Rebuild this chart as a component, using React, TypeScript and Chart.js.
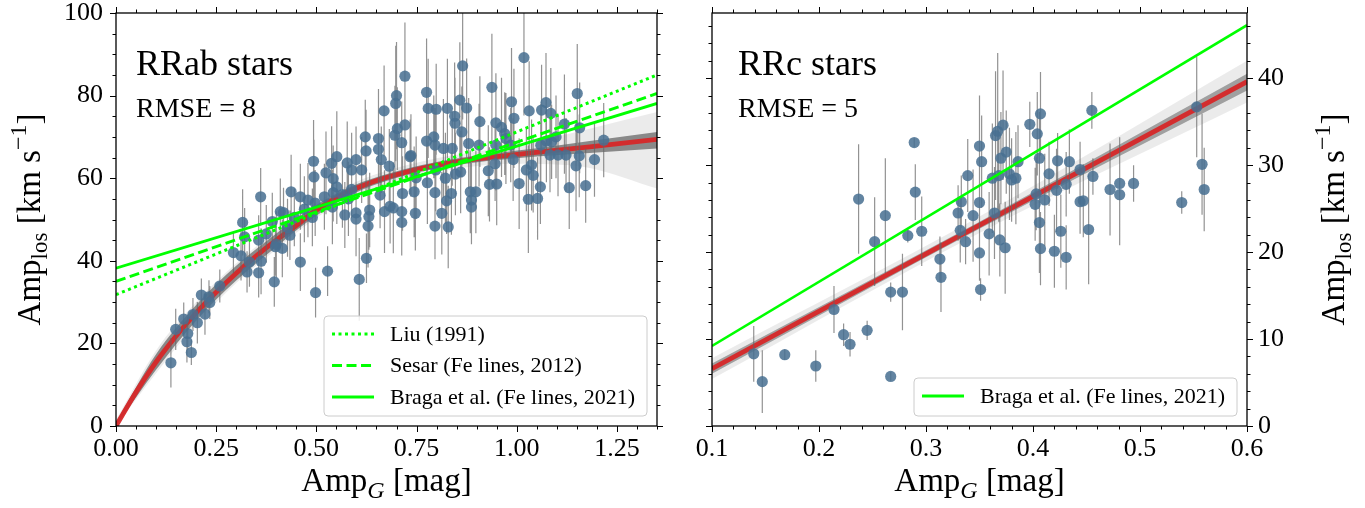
import React, { useEffect, useRef } from "react";
import { Chart, registerables } from "chart.js";
Chart.register(...registerables);

const SERIF = '"Liberation Serif", "Times New Roman", serif';
const LIME = "#00ff00";
const RED = "rgba(214,39,40,0.95)";
const DOT = "rgba(72,112,145,0.86)";
const ERRC = "rgba(100,100,100,0.7)";

// ---------------- RRab (left panel) ----------------
const RRAB_AMPG = [
  0.137, 0.149, 0.169, 0.179, 0.177, 0.188, 0.192, 0.203, 0.213, 0.222,
  0.232, 0.234, 0.259, 0.293, 0.312, 0.316, 0.321, 0.327, 0.333, 0.356,
  0.361, 0.362, 0.356, 0.395, 0.398, 0.41, 0.415, 0.418, 0.437, 0.46,
  0.46, 0.479, 0.434, 0.428, 0.498, 0.528, 0.607, 0.625, 0.493, 0.494,
  0.497, 0.524, 0.538, 0.551, 0.542, 0.551, 0.542, 0.571, 0.577, 0.588,
  0.599, 0.588, 0.599, 0.599, 0.622, 0.624, 0.613, 0.633, 0.629, 0.631,
  0.655, 0.655, 0.662, 0.669, 0.67, 0.684, 0.692, 0.659, 0.682, 0.698,
  0.7, 0.696, 0.702, 0.721, 0.721, 0.713, 0.713, 0.713, 0.715, 0.734,
  0.736, 0.744, 0.747, 0.749, 0.775, 0.779, 0.799, 0.775, 0.793, 0.796,
  0.777, 0.796, 0.798, 0.813, 0.796, 0.817, 0.822, 0.829, 0.827, 0.846,
  0.845, 0.839, 0.837, 0.825, 0.847, 0.858, 0.865, 0.863, 0.875, 0.86,
  0.88, 0.884, 0.887, 0.887, 0.898, 0.908, 0.906, 0.929, 0.932, 0.938,
  0.948, 0.948, 0.95, 0.946, 0.962, 0.973, 0.987, 0.993, 0.991, 0.985,
  1.006, 1.018, 1.031, 1.029, 1.024, 1.037, 1.041, 1.052, 1.059, 1.062,
  1.073, 1.085, 1.06, 1.074, 1.087, 1.083, 1.103, 1.119, 1.123, 1.131,
  1.148, 1.151, 1.157, 1.156, 1.172, 1.194, 1.217, 1.098, 0.97, 0.47,
  0.49, 0.52, 0.54, 0.565, 0.58, 0.445, 0.39, 0.4, 0.375,
];
const RRAB_AMPLOS = [
  15.3, 23.4, 25.9, 22.4, 20.4, 17.8, 27.0, 25.0, 31.7, 27.1,
  31.3, 29.9, 33.9, 42.0, 41.2, 49.3, 45.8, 37.3, 39.7, 37.1,
  55.5, 39.9, 45.0, 34.9, 43.4, 51.9, 43.0, 51.7, 56.7, 39.7,
  55.5, 54.7, 46.2, 48.0, 32.3, 37.5, 35.5, 40.6, 64.1, 60.3,
  54.0, 61.3, 63.6, 65.2, 59.9, 57.9, 56.5, 51.1, 63.7, 62.0,
  64.5, 57.3, 51.6, 50.1, 70.0, 66.6, 62.0, 52.3, 48.4, 50.7,
  69.6, 67.0, 64.5, 76.3, 51.9, 53.2, 52.8, 55.9, 62.9, 78.1,
  80.0, 70.4, 72.0, 84.7, 72.9, 68.6, 51.9, 49.3, 56.3, 65.2,
  65.5, 56.7, 51.5, 60.1, 80.8, 76.9, 76.7, 69.0, 70.0, 68.0,
  58.9, 56.5, 62.0, 51.5, 48.4, 67.2, 60.0, 48.2, 76.9, 73.3,
  75.0, 67.2, 56.3, 54.5, 61.0, 78.9, 87.2, 71.2, 77.0, 61.5,
  68.4, 56.7, 53.0, 54.7, 56.7, 73.7, 68.0, 61.8, 58.5, 82.0,
  73.4, 68.0, 58.6, 63.5, 72.3, 69.6, 78.5, 74.5, 64.5, 68.0,
  58.7, 89.2, 76.3, 54.9, 62.0, 63.2, 60.7, 55.1, 57.9, 76.5,
  78.3, 75.7, 68.0, 69.0, 68.8, 65.6, 65.6, 73.1, 65.6, 57.7,
  63.0, 80.5, 72.2, 65.4, 58.2, 64.5, 69.2, 70.0, 70.8, 52.5,
  50.5, 55.5, 53.0, 56.0, 55.0, 50.5, 49.5, 44.0, 46.5,
];
const RRAB_ERR = [
  6, 5, 4, 4, 5, 3, 4, 5, 4, 5,
  4, 4, 4, 5, 6, 8, 7, 5, 6, 6,
  7, 8, 6, 6, 7, 8, 7, 6, 9, 7,
  8, 9, 6, 7, 6, 6, 10, 6, 10, 9,
  8, 10, 9, 11, 8, 9, 7, 8, 10, 9,
  8, 7, 8, 9, 9, 10, 8, 9, 10, 8,
  12, 9, 8, 11, 10, 9, 11, 8, 9, 14,
  13, 12, 10, 13, 11, 10, 10, 8, 9, 9,
  10, 11, 9, 10, 13, 12, 11, 11, 10, 9,
  10, 9, 10, 10, 8, 12, 11, 10, 12, 11,
  13, 9, 10, 8, 10, 14, 13, 11, 12, 10,
  11, 10, 9, 9, 10, 11, 10, 11, 9, 13,
  12, 11, 10, 9, 12, 11, 13, 12, 10, 9,
  11, 14, 12, 13, 10, 11, 9, 10, 9, 11,
  12, 11, 10, 10, 9, 9, 10, 12, 9, 10,
  11, 12, 11, 10, 9, 9, 9, 10, 10, 8,
  7, 8, 9, 8, 9, 7, 7, 8, 7,
];

// fitted relation (red) and posterior band (grey), RRab
const RRAB_FIT_X = [0, 0.05, 0.1, 0.15, 0.2, 0.25, 0.3, 0.35, 0.4, 0.45, 0.493, 0.542, 0.591, 0.64, 0.69, 0.788, 0.887, 0.985, 1.084, 1.182, 1.35];
const RRAB_FIT_Y = [0, 8.2, 15.5, 21.8, 27.4, 32.4, 37.0, 41.2, 45.0, 48.5, 51.8, 54.8, 57.2, 59.1, 60.6, 62.9, 64.5, 65.6, 66.6, 67.6, 69.4];
const RRAB_BAND_X = [0, 0.1, 0.2, 0.3, 0.4, 0.493, 0.591, 0.69, 0.788, 0.887, 0.985, 1.084, 1.182, 1.35];
const RRAB_IN_HI = [0.9, 17.4, 29.3, 38.8, 46.6, 53.1, 58.2, 61.4, 63.7, 65.3, 66.5, 67.7, 69.0, 71.2];
const RRAB_IN_LO = [0, 13.6, 25.5, 35.2, 43.4, 50.5, 56.2, 59.8, 62.1, 63.7, 64.7, 65.5, 66.1, 67.2];
const RRAB_OUT_HI = [1.5, 18.3, 30.0, 39.4, 47.2, 53.7, 58.8, 62.2, 64.6, 66.3, 67.8, 69.8, 72.0, 76.0];
const RRAB_OUT_LO = [0, 12.8, 24.7, 34.6, 42.8, 49.9, 55.6, 59.0, 61.3, 62.8, 63.5, 63.4, 62.5, 57.5];

// literature relations, RRab (end points)
const LIT_X = [0, 1.35];
const LIU_Y = [31.8, 85.0];
const SESAR_Y = [35.0, 80.5];
const BRAGA_AB_Y = [38.2, 78.1];

// ---------------- RRc (right panel) ----------------
const RRC_AMPG = [
  0.139, 0.147, 0.168, 0.197, 0.214, 0.223, 0.229, 0.237, 0.245, 0.252,
  0.262, 0.267, 0.267, 0.278, 0.283, 0.289, 0.29, 0.296, 0.313, 0.314,
  0.33, 0.332, 0.333, 0.337, 0.339, 0.344, 0.35, 0.352, 0.35, 0.35,
  0.351, 0.359, 0.364, 0.362, 0.365, 0.367, 0.372, 0.368, 0.369, 0.374,
  0.37, 0.375, 0.378, 0.38, 0.384, 0.386, 0.397, 0.404, 0.407, 0.406,
  0.402, 0.406, 0.407, 0.403, 0.411, 0.415, 0.42, 0.422, 0.423, 0.426,
  0.431, 0.434, 0.431, 0.444, 0.447, 0.444, 0.452, 0.455, 0.456, 0.472,
  0.481, 0.481, 0.494, 0.539, 0.553, 0.558, 0.56,
];
const RRC_AMPLOS = [
  8.3, 5.1, 8.2, 6.9, 13.4, 10.5, 9.4, 26.1, 11.0, 21.2,
  24.2, 15.4, 5.7, 15.4, 21.9, 32.6, 26.9, 22.4, 19.2, 17.1,
  24.5, 22.5, 25.8, 21.2, 28.8, 24.2, 32.2, 30.4, 25.7, 19.9,
  15.7, 22.1, 24.5, 28.5, 33.4, 33.9, 34.6, 28.8, 21.4, 20.5,
  30.8, 31.5, 29.0, 28.3, 28.5, 30.4, 34.7, 33.6, 35.9, 30.8,
  25.5, 23.4, 20.4, 26.7, 26.0, 29.0, 20.1, 27.1, 30.5, 22.4,
  19.4, 30.4, 27.8, 25.8, 25.9, 29.5, 22.6, 36.3, 28.7, 27.2,
  27.9, 26.6, 27.9, 25.7, 36.7, 30.1, 27.2,
];
const RRC_ERR = [
  3.2, 3.6, 0.6, 1.8, 2.7, 1.3, 1.4, 6.3, 1.1, 5.1,
  6.6, 1.1, 0.5, 4.4, 0.8, 0.5, 3.2, 4.0, 2.6, 4.0,
  3.2, 3.7, 3.0, 2.6, 4.2, 5.3, 5.8, 5.3, 4.2, 3.2,
  1.3, 4.8, 5.3, 6.3, 7.4, 9.0, 6.3, 5.3, 4.2, 5.3,
  5.3, 4.8, 5.3, 4.8, 5.3, 4.2, 2.6, 4.8, 4.8, 5.3,
  4.2, 5.8, 4.2, 4.2, 5.3, 3.7, 4.2, 4.8, 3.2, 4.2,
  3.7, 3.7, 3.7, 3.7, 4.2, 3.2, 6.3, 2.1, 2.1, 5.3,
  5.3, 5.8, 2.1, 1.3, 5.8, 5.8, 4.8,
];
const RRC_FIT_X = [0.1, 0.6];
const RRC_FIT_Y = [6.6, 39.6];
const RRC_BAND_X = [0.1, 0.35, 0.6];
const RRC_IN_HI = [7.2, 23.5, 40.5];
const RRC_IN_LO = [6.0, 22.7, 38.6];
const RRC_OUT_HI = [7.8, 24.1, 42.0];
const RRC_OUT_LO = [5.4, 22.2, 37.2];
const BRAGA_C_X = [0.1, 0.6];
const BRAGA_C_Y = [9.2, 46.1];

// ---------------- axes ----------------
const AB_X_TICKS = [0, 0.25, 0.5, 0.75, 1.0, 1.25];
const AB_Y_TICKS = [0, 20, 40, 60, 80, 100];
const C_X_TICKS = [0.1, 0.2, 0.3, 0.4, 0.5, 0.6];
const C_Y_TICKS = [0, 10, 20, 30, 40];

type Part = { t: string; s?: number; dy?: number; it?: boolean };
const Y_TITLE: Part[] = [
  { t: "Amp" },
  { t: "los", s: 0.7, dy: 0.2 },
  { t: " [km s" },
  { t: "\u22121", s: 0.72, dy: -0.42 },
  { t: "]" },
];
const X_TITLE: Part[] = [{ t: "Amp" }, { t: "G", s: 0.72, dy: 0.2, it: true }, { t: " [mag]" }];

function fontOf(p: Part, size: number) {
  return `${p.it ? "italic " : ""}${Math.round(size * (p.s || 1))}px ${SERIF}`;
}
function drawRich(ctx: CanvasRenderingContext2D, parts: Part[], x: number, y: number, size: number) {
  let w = 0;
  parts.forEach((p) => {
    ctx.font = fontOf(p, size);
    w += ctx.measureText(p.t).width;
  });
  let cx = x - w / 2;
  ctx.textAlign = "left";
  ctx.textBaseline = "alphabetic";
  parts.forEach((p) => {
    ctx.font = fontOf(p, size);
    ctx.fillText(p.t, cx, y + (p.dy || 0) * size);
    cx += ctx.measureText(p.t).width;
  });
}

const pts = (xs: number[], ys: number[]) => xs.map((x, i) => ({ x, y: ys[i] }));
function errBars(xs: number[], ys: number[], es: number[]) {
  const out: any[] = [];
  xs.forEach((x, i) => {
    out.push({ x, y: ys[i] - es[i] }, { x, y: ys[i] + es[i] }, { x, y: null });
  });
  return out;
}

interface LegendEntry { label: string; dash: number[]; width: number }
interface Spec {
  xMin: number; xMax: number; yMin: number; yMax: number;
  xMinor: number; yMinor: number; xMajor: number[]; yMajor: number[];
  title: string; rmse: string; textLeft: number; legend: LegendEntry[]; yTitleX: number;
}

function roundRect(ctx: CanvasRenderingContext2D, x: number, y: number, w: number, h: number, r: number) {
  ctx.beginPath();
  ctx.moveTo(x + r, y);
  ctx.lineTo(x + w - r, y);
  ctx.arcTo(x + w, y, x + w, y + r, r);
  ctx.lineTo(x + w, y + h - r);
  ctx.arcTo(x + w, y + h, x + w - r, y + h, r);
  ctx.lineTo(x + r, y + h);
  ctx.arcTo(x, y + h, x, y + h - r, r);
  ctx.lineTo(x, y + r);
  ctx.arcTo(x, y, x + r, y, r);
  ctx.closePath();
}

function decor(spec: Spec) {
  return {
    id: "panelDecor",
    afterDatasetsDraw(chart: any) {
      const ctx: CanvasRenderingContext2D = chart.ctx;
      const a = chart.chartArea;
      const sx = chart.scales.x;
      const sy = chart.scales.y;
      ctx.save();
      ctx.fillStyle = "#000";
      ctx.textAlign = "left";
      ctx.textBaseline = "alphabetic";
      ctx.font = `36px ${SERIF}`;
      ctx.fillText(spec.title, a.left + spec.textLeft, 75);
      ctx.font = `28px ${SERIF}`;
      ctx.fillText(spec.rmse, a.left + spec.textLeft, 117);

      // legend
      ctx.font = `22px ${SERIF}`;
      const tw = Math.max(...spec.legend.map((e) => ctx.measureText(e.label).width));
      const bw = 8 + 42 + 16 + tw + 12;
      const bh = spec.legend.length * 31 + 7;
      const bx = a.right - 10 - bw;
      const by = a.bottom - 10 - bh;
      roundRect(ctx, bx, by, bw, bh, 4);
      ctx.fillStyle = "rgba(255,255,255,0.85)";
      ctx.fill();
      ctx.strokeStyle = "#cccccc";
      ctx.lineWidth = 1;
      ctx.stroke();
      spec.legend.forEach((e, i) => {
        const cy = by + 18 + i * 31.5;
        ctx.beginPath();
        ctx.setLineDash(e.dash);
        ctx.strokeStyle = LIME;
        ctx.lineWidth = e.width;
        ctx.moveTo(bx + 8, cy);
        ctx.lineTo(bx + 50, cy);
        ctx.stroke();
        ctx.setLineDash([]);
        ctx.fillStyle = "#000";
        ctx.textBaseline = "middle";
        ctx.font = `22px ${SERIF}`;
        ctx.fillText(e.label, bx + 66, cy + 1);
      });

      // frame
      ctx.strokeStyle = "#000";
      ctx.lineWidth = 1.3;
      ctx.strokeRect(a.left, a.top, a.right - a.left, a.bottom - a.top);

      // ticks (outward, all four sides)
      ctx.lineWidth = 1;
      const isMajor = (v: number, majors: number[]) => majors.some((m) => Math.abs(m - v) < 1e-6);
      const nx = Math.round((spec.xMax - spec.xMin) / spec.xMinor);
      for (let i = 0; i <= nx; i++) {
        const v = spec.xMin + i * spec.xMinor;
        const len = isMajor(v, spec.xMajor) ? 6 : 3.5;
        const px = Math.round(sx.getPixelForValue(v)) + 0.5;
        ctx.beginPath();
        ctx.moveTo(px, a.bottom);
        ctx.lineTo(px, a.bottom + len);
        ctx.moveTo(px, a.top);
        ctx.lineTo(px, a.top - len);
        ctx.stroke();
      }
      const ny = Math.floor((spec.yMax - spec.yMin) / spec.yMinor + 1e-6);
      for (let i = 0; i <= ny; i++) {
        const v = spec.yMin + i * spec.yMinor;
        const len = isMajor(v, spec.yMajor) ? 6 : 3.5;
        const py = Math.round(sy.getPixelForValue(v)) + 0.5;
        ctx.beginPath();
        ctx.moveTo(a.left, py);
        ctx.lineTo(a.left - len, py);
        ctx.moveTo(a.right, py);
        ctx.lineTo(a.right + len, py);
        ctx.stroke();
      }

      // axis titles
      ctx.fillStyle = "#000";
      drawRich(ctx, X_TITLE, (a.left + a.right) / 2, 491, 33);
      ctx.save();
      ctx.translate(spec.yTitleX, (a.top + a.bottom) / 2);
      ctx.rotate(-Math.PI / 2);
      drawRich(ctx, Y_TITLE, 0, 0, 33);
      ctx.restore();
      ctx.restore();
    },
  };
}

const tickFont = { family: SERIF, size: 26 };

function lineDs(data: any[], color: string, width: number, order: number, extra: any = {}) {
  return {
    type: "line",
    data,
    borderColor: color,
    borderWidth: width,
    pointRadius: 0,
    pointHoverRadius: 0,
    fill: false,
    order,
    ...extra,
  };
}
function bandDs(xs: number[], hi: number[], lo: number[], color: string, order: number) {
  return [
    lineDs(pts(xs, hi), "rgba(0,0,0,0)", 0, order, { fill: "+1", backgroundColor: color, cubicInterpolationMode: "monotone" }),
    lineDs(pts(xs, lo), "rgba(0,0,0,0)", 0, order, { cubicInterpolationMode: "monotone" }),
  ];
}

function makeConfig(opts: {
  spec: Spec; datasets: any[]; xTicks: number[]; yTicks: number[]; decimals: number;
  yRight: boolean; padLeft: number; padRight: number; yWidth: number;
}): any {
  const { spec } = opts;
  return {
    type: "scatter",
    data: { datasets: opts.datasets },
    options: {
      responsive: false,
      animation: false,
      events: [],
      layout: { padding: { left: opts.padLeft, right: opts.padRight, top: 13, bottom: 0 } },
      plugins: { legend: { display: false }, tooltip: { enabled: false } },
      scales: {
        x: {
          type: "linear",
          position: "bottom",
          min: spec.xMin,
          max: spec.xMax,
          grid: { display: false, drawTicks: false },
          border: { display: false },
          ticks: {
            font: tickFont,
            color: "#000",
            padding: 8,
            maxRotation: 0,
            autoSkip: false,
            callback: (v: any) => Number(v).toFixed(opts.decimals),
          },
          afterBuildTicks: (s: any) => {
            s.ticks = opts.xTicks.map((value) => ({ value }));
          },
          afterFit: (s: any) => {
            s.height = 82;
            s.paddingLeft = 0;
            s.paddingRight = 0;
          },
        },
        y: {
          type: "linear",
          position: opts.yRight ? "right" : "left",
          min: spec.yMin,
          max: spec.yMax,
          grid: { display: false, drawTicks: false },
          border: { display: false },
          ticks: {
            font: tickFont,
            color: "#000",
            padding: opts.yRight ? 11 : 13,
            autoSkip: false,
            callback: (v: any) => String(v),
          },
          afterBuildTicks: (s: any) => {
            s.ticks = opts.yTicks.map((value) => ({ value }));
          },
          afterFit: (s: any) => {
            s.width = opts.yWidth;
            s.paddingTop = 0;
            s.paddingBottom = 0;
          },
        },
      },
    },
    plugins: [decor(spec)],
  };
}

function buildLeft() {
  const spec: Spec = {
    xMin: 0, xMax: 1.35, yMin: 0, yMax: 100, xMinor: 0.05, yMinor: 5,
    xMajor: AB_X_TICKS, yMajor: AB_Y_TICKS,
    title: "RRab stars", rmse: "RMSE = 8", textLeft: 20, yTitleX: 40,
    legend: [
      { label: "Liu (1991)", dash: [3, 3.5], width: 3 },
      { label: "Sesar (Fe lines, 2012)", dash: [10, 4.5], width: 3 },
      { label: "Braga et al. (Fe lines, 2021)", dash: [], width: 3 },
    ],
  };
  const datasets = [
    lineDs(pts(LIT_X, LIU_Y), LIME, 3, 0, { borderDash: [3, 3.5] }),
    lineDs(pts(LIT_X, SESAR_Y), LIME, 3, 0, { borderDash: [10, 4.5] }),
    lineDs(pts(LIT_X, BRAGA_AB_Y), LIME, 2.8, 0),
    {
      type: "scatter",
      data: pts(RRAB_AMPG, RRAB_AMPLOS),
      pointRadius: 5.6,
      pointHoverRadius: 5.6,
      backgroundColor: DOT,
      borderWidth: 0,
      order: 1,
    },
    lineDs(errBars(RRAB_AMPG, RRAB_AMPLOS, RRAB_ERR), ERRC, 1.2, 2, { spanGaps: false }),
    lineDs(pts(RRAB_FIT_X, RRAB_FIT_Y), RED, 4.8, 3, { cubicInterpolationMode: "monotone" }),
    ...bandDs(RRAB_BAND_X, RRAB_IN_HI, RRAB_IN_LO, "rgba(0,0,0,0.42)", 4),
    ...bandDs(RRAB_BAND_X, RRAB_OUT_HI, RRAB_OUT_LO, "rgba(0,0,0,0.08)", 5),
  ];
  return makeConfig({
    spec, datasets, xTicks: AB_X_TICKS, yTicks: AB_Y_TICKS, decimals: 2,
    yRight: false, padLeft: 0, padRight: 23, yWidth: 116,
  });
}

function buildRight() {
  const spec: Spec = {
    xMin: 0.1, xMax: 0.6, yMin: 0, yMax: 47.5, xMinor: 0.02, yMinor: 2,
    xMajor: C_X_TICKS, yMajor: C_Y_TICKS,
    title: "RRc stars", rmse: "RMSE = 5", textLeft: 26, yTitleX: 664,
    legend: [{ label: "Braga et al. (Fe lines, 2021)", dash: [], width: 3 }],
  };
  const datasets = [
    lineDs(pts(BRAGA_C_X, BRAGA_C_Y), LIME, 2.6, 0),
    {
      type: "scatter",
      data: pts(RRC_AMPG, RRC_AMPLOS),
      pointRadius: 5.6,
      pointHoverRadius: 5.6,
      backgroundColor: DOT,
      borderWidth: 0,
      order: 1,
    },
    lineDs(errBars(RRC_AMPG, RRC_AMPLOS, RRC_ERR), ERRC, 1.2, 2, { spanGaps: false }),
    lineDs(pts(RRC_FIT_X, RRC_FIT_Y), RED, 4.8, 3),
    ...bandDs(RRC_BAND_X, RRC_IN_HI, RRC_IN_LO, "rgba(0,0,0,0.32)", 4),
    ...bandDs(RRC_BAND_X, RRC_OUT_HI, RRC_OUT_LO, "rgba(0,0,0,0.08)", 5),
  ];
  return makeConfig({
    spec, datasets, xTicks: C_X_TICKS, yTicks: C_Y_TICKS, decimals: 1,
    yRight: true, padLeft: 32, padRight: 0, yWidth: 118,
  });
}

function Panel({ build, left, width }: { build: () => any; left: number; width: number }) {
  const ref = useRef<HTMLCanvasElement>(null);
  useEffect(() => {
    const chart = new Chart(ref.current as HTMLCanvasElement, build());
    return () => chart.destroy();
  }, []);
  return (
    <canvas
      ref={ref}
      width={width}
      height={508}
      style={{ position: "absolute", left, top: 0, width, height: 508 }}
    />
  );
}

export default function App() {
  return (
    <div style={{ position: "fixed", left: 0, top: 0, width: 1365, height: 508, background: "#fff" }}>
      <Panel build={buildLeft} left={0} width={680} />
      <Panel build={buildRight} left={680} width={685} />
    </div>
  );
}
